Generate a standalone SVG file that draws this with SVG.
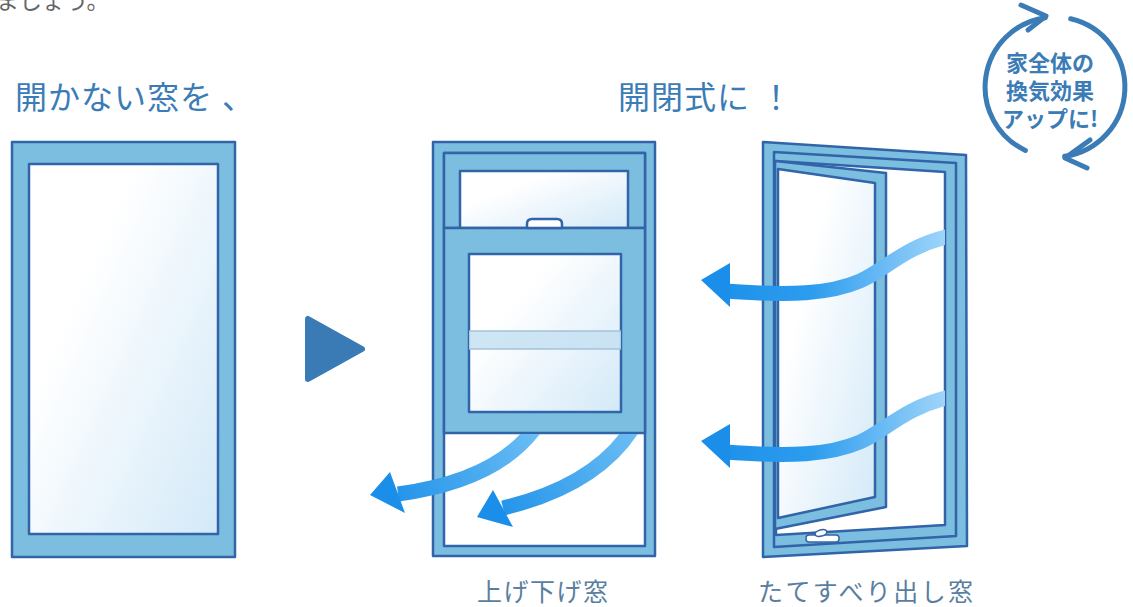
<svg xmlns="http://www.w3.org/2000/svg" width="1133" height="607" viewBox="0 0 1133 607">
  <defs>
    <style>
      .frame { fill: #7cbedf; stroke: #3164a8; stroke-width: 2.5; stroke-linejoin: round; }
      .glass { fill: url(#glass); stroke: #3164a8; stroke-width: 2.5; stroke-linejoin: round; }
      .open { fill: #ffffff; stroke: #3164a8; stroke-width: 2.5; stroke-linejoin: round; }
      .title { font-family: "Noto Sans CJK JP", "Noto Sans", sans-serif; font-size: 32px; fill: #3b7cb6; letter-spacing: 1px; }
      .label { font-family: "Noto Sans CJK JP", "Noto Sans", sans-serif; font-size: 25px; fill: #5a7e9f; }
      .badge { font-family: "Noto Sans CJK JP", "Noto Sans", sans-serif; font-size: 22px; font-weight: 700; fill: #3b7cb6; text-anchor: middle; }
      .ring { fill: none; stroke: #3b7cb6; stroke-width: 5; stroke-linecap: round; stroke-linejoin: round; }
      .shaft { fill: none; stroke-width: 15; }
    </style>
    <linearGradient id="glass" x1="0.25" y1="0.35" x2="1" y2="1">
      <stop offset="0" stop-color="#ffffff"/>
      <stop offset="1" stop-color="#d3e9f8"/>
    </linearGradient>
    <linearGradient id="wind" gradientUnits="userSpaceOnUse" x1="700" y1="0" x2="946" y2="0">
      <stop offset="0" stop-color="#1a8ee8"/>
      <stop offset="0.45" stop-color="#2c9cee"/>
      <stop offset="1" stop-color="#9fd5fa"/>
    </linearGradient>
    <linearGradient id="fall1" gradientUnits="userSpaceOnUse" x1="535" y1="430" x2="372" y2="495">
      <stop offset="0" stop-color="#6abdf4"/>
      <stop offset="1" stop-color="#1a8ee8"/>
    </linearGradient>
    <linearGradient id="fall2" gradientUnits="userSpaceOnUse" x1="632" y1="430" x2="480" y2="515">
      <stop offset="0" stop-color="#6abdf4"/>
      <stop offset="1" stop-color="#1a8ee8"/>
    </linearGradient>
    <clipPath id="below-sash">
      <rect x="300" y="434" width="400" height="173"/>
    </clipPath>
    <clipPath id="inside-frame">
      <rect x="650" y="200" width="295" height="300"/>
    </clipPath>
  </defs>

  <rect width="1133" height="607" fill="#ffffff"/>

  <!-- lead-in line cut by the top edge -->
  <text x="-4" y="9" font-family="'Noto Sans CJK JP', sans-serif" font-size="23" fill="#666666">ましょう。</text>

  <!-- headings -->
  <g id="heading-before">
    <text class="title" x="15" y="109">開かない窓を<tspan dx="9">、</tspan></text>
  </g>
  <g id="heading-after">
    <text class="title" x="618" y="109">開閉式に<tspan dx="10">！</tspan></text>
  </g>

  <!-- fixed window -->
  <g id="fixed-window">
    <rect class="frame" x="12" y="142" width="223" height="415"/>
    <rect class="glass" x="29" y="164" width="189" height="370"/>
  </g>

  <!-- play arrow -->
  <g id="next-marker">
    <polygon points="308,319 308,379 362,349" fill="#3a7ab5" stroke="#3a7ab5" stroke-width="6" stroke-linejoin="round"/>
  </g>

  <!-- double-hung window -->
  <g id="sash-window">
    <rect class="frame" x="433" y="142" width="222" height="414"/>
    <rect class="open" x="444" y="153" width="201" height="393"/>
    <!-- upper sash -->
    <rect class="frame" x="444" y="153" width="201" height="75"/>
    <rect class="glass" x="460" y="171" width="168" height="57"/>
    <!-- lower sash -->
    <rect class="frame" x="444" y="228" width="201" height="205"/>
    <rect class="glass" x="469" y="254" width="152" height="158"/>
    <rect x="469" y="331" width="152" height="18" fill="#c6e0f1" opacity="0.85"/>
    <line x1="469" y1="331" x2="621" y2="331" stroke="#a5c2db" stroke-width="1.5"/>
    <line x1="469" y1="349" x2="621" y2="349" stroke="#a5c2db" stroke-width="1.5"/>
    <path d="M527,228 V224 Q527,219 532,219 H557 Q562,219 562,224 V228 Z" fill="#ffffff" stroke="#3164a8" stroke-width="2.5" stroke-linejoin="round"/>
    <text class="label" x="477" y="601" letter-spacing="1.5">上げ下げ窓</text>
  </g>

  <!-- vertical projecting window -->
  <g id="casement-window">
    <polygon class="frame" points="763,142 966,155 967,546 763,557"/>
    <polygon class="frame" points="774,152 956,163 956,536 774,547"/>
    <polygon class="open" points="776,161 945,172 945,525 776,535"/>
    <!-- opened sash -->
    <polygon class="frame" points="775,161 886,173 886,507 775,529"/>
    <polygon class="glass" points="778,169 875,183 875,497 778,518"/>
    <!-- stay hardware -->
    <rect x="806" y="535" width="33" height="7" rx="3" fill="#ffffff" stroke="#3164a8" stroke-width="1.5"/>
    <ellipse cx="821" cy="533" rx="6" ry="3.2" transform="rotate(-15 821 533)" fill="#ffffff" stroke="#3164a8" stroke-width="1.5"/>
    <text class="label" x="758" y="601" letter-spacing="2.4">たてすべり出し窓</text>
  </g>

  <!-- ventilation badge -->
  <g id="ventilation-badge">
    <path class="ring" d="M1025.4,150.4 A70,70 0 0 1 1045.3,17.7"/>
    <polyline class="ring" points="1021,5 1046,16 1028,30"/>
    <path class="ring" d="M1070.7,18.8 A70,70 0 0 1 1064.7,156.3"/>
    <polyline class="ring" points="1090,140 1065,158 1087,168"/>
    <text class="badge" x="1050" y="71">家全体の</text>
    <text class="badge" x="1050" y="99">換気効果</text>
    <text class="badge" x="1050" y="127">アップに!</text>
  </g>

  <!-- airflow connectors -->
  <g id="connectors">
    <g clip-path="url(#below-sash)">
      <path class="shaft" stroke="url(#fall1)" stroke-width="14" d="M535,428 C510,462 465,485 398,494"/>
      <path class="shaft" stroke="url(#fall2)" stroke-width="14" d="M634,426 C612,462 570,492 503,508"/>
    </g>
    <polygon points="370,495 390,472 405,513" fill="#1a8ee8"/>
    <polygon points="477,517 493,490 513,527" fill="#1a8ee8"/>
    <g clip-path="url(#inside-frame)">
      <path class="shaft" stroke="url(#wind)" d="M950,236 C905,246 885,270 860,281 C830,294 790,296 726,291"/>
      <path class="shaft" stroke="url(#wind)" d="M950,397 C905,407 885,431 860,442 C830,455 790,457 726,452"/>
    </g>
    <polygon points="701,280 730,263 730,307" fill="#1a8ee8"/>
    <polygon points="701,441 730,424 730,468" fill="#1a8ee8"/>
  </g>
</svg>
